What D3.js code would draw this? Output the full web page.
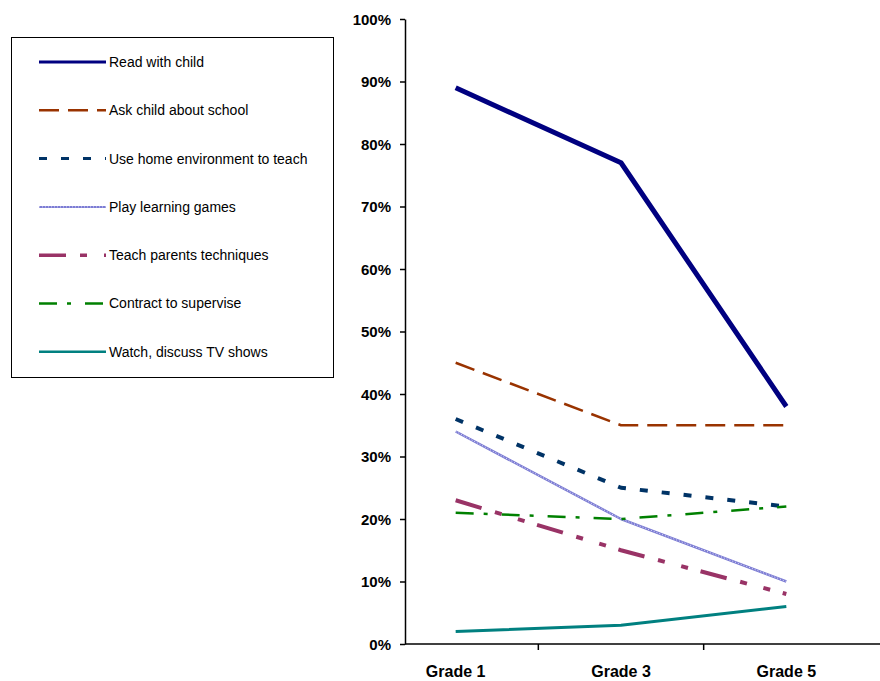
<!DOCTYPE html>
<html>
<head>
<meta charset="utf-8">
<script src="https://cdn.jsdelivr.net/npm/d3@7/dist/d3.min.js"></script>
<style>
  body { margin: 0; background: #fff; }
  text { font-family: Arial, "Liberation Sans", sans-serif; }
</style>
</head>
<body>
<div class="diagram"></div>
<script>
var width = 880, height = 681;

// DATA
var grades = ['Grade 1', 'Grade 3', 'Grade 5'];
var seriesNames = ['Read with child', 'Ask child about school', 'Use home environment to teach',
  'Play learning games', 'Teach parents techniques', 'Contract to supervise', 'Watch, discuss TV shows'];
var readWithChild = [89, 77, 38];
var askAboutSchool = [45, 35, 35];
var useHomeEnv = [36, 25, 22];
var playGames = [34, 20, 10];
var teachParents = [23, 15, 8];
var contractSupervise = [21, 20, 22];
var watchTv = [2, 3, 6];
var yTicks = [0, 10, 20, 30, 40, 50, 60, 70, 80, 90, 100];

var seriesValues = [readWithChild, askAboutSchool, useHomeEnv, playGames, teachParents, contractSupervise, watchTv];

// line styles per series (w = chart width, lw = legend width)
var styles = [
  { color: '#000080', w: 5, lw: 3, dash: null },
  { color: '#993300', w: 2.5, lw: 2.5, dash: '20,9' },
  { color: '#003366', w: 4, lw: 3, dash: '8,14' },
  { color: '#7c7cd4', w: 2.5, lw: 2, dash: null, hatch: true },
  { color: '#993366', w: 4, lw: 3.5, dash: '27,14,7,17,7,13' },
  { color: '#008000', w: 2.5, lw: 2.5, dash: '18,10,4,14' },
  { color: '#008080', w: 3, lw: 2.5, dash: null }
];

var svg = d3.select('.diagram')
  .append('svg')
  .attr('width', width)
  .attr('height', height);

var axisX = 405, plotTop = 19, plotBottom = 644;

var x = d3.scaleBand()
  .domain(grades)
  .range([373, 869]);

var y = d3.scaleLinear()
  .domain([0, 100])
  .range([plotBottom, plotTop]);

// AXES
var yAxis = svg.append('g')
  .attr('transform', 'translate(' + axisX + ',0)')
  .call(d3.axisLeft(y).tickValues(yTicks).tickSize(5).tickSizeOuter(0).tickFormat(function(d) { return d + '%'; }));
yAxis.select('.domain').attr('stroke', '#000').attr('stroke-width', 1.5);
yAxis.selectAll('.tick line').attr('stroke', '#000').attr('stroke-width', 1.5);
yAxis.selectAll('text')
  .attr('x', -14)
  .attr('dy', '0.35em')
  .attr('fill', '#000')
  .style('font-size', '15px')
  .style('font-weight', 'bold');

svg.append('line')
  .attr('x1', axisX).attr('x2', 880)
  .attr('y1', plotBottom).attr('y2', plotBottom)
  .attr('stroke', '#000').attr('stroke-width', 1.5);

// x ticks between categories
svg.selectAll('.xtick')
  .data(grades.slice(1))
  .enter()
  .append('line')
  .attr('class', 'xtick')
  .attr('x1', function(d) { return x(d); })
  .attr('x2', function(d) { return x(d); })
  .attr('y1', plotBottom).attr('y2', plotBottom + 6)
  .attr('stroke', '#000').attr('stroke-width', 1.5);

svg.selectAll('.xlabel')
  .data(grades)
  .enter()
  .append('text')
  .attr('class', 'xlabel')
  .attr('x', function(d) { return x(d) + x.bandwidth() / 2; })
  .attr('y', 677)
  .attr('text-anchor', 'middle')
  .style('font-size', '16px')
  .style('font-weight', 'bold')
  .text(function(d) { return d; });

// LINES
var line = d3.line()
  .x(function(d, i) { return x(grades[i]) + x.bandwidth() / 2; })
  .y(function(d) { return y(d); });

seriesValues.forEach(function(vals, k) {
  var s = styles[k];
  var p = svg.append('path')
    .attr('d', line(vals))
    .attr('fill', 'none')
    .attr('stroke', s.color)
    .attr('stroke-width', s.w)
    .attr('stroke-linejoin', 'round');
  if (s.dash) p.attr('stroke-dasharray', s.dash);
  if (s.hatch) {
    svg.append('path')
      .attr('d', line(vals))
      .attr('fill', 'none')
      .attr('stroke', '#fff')
      .attr('stroke-width', 0.8)
      .attr('stroke-dasharray', '1,2');
  }
});

// LEGEND
var legend = svg.append('g');
legend.append('rect')
  .attr('x', 11.5).attr('y', 37.5)
  .attr('width', 322).attr('height', 340)
  .attr('fill', '#fff')
  .attr('stroke', '#000')
  .attr('stroke-width', 1);

var rows = legend.selectAll('.row')
  .data(seriesNames)
  .enter()
  .append('g')
  .attr('class', 'row')
  .attr('transform', function(d, i) { return 'translate(0,' + (62 + i * 48.3) + ')'; });

rows.append('line')
  .attr('x1', 39).attr('x2', 106)
  .attr('y1', 0).attr('y2', 0)
  .attr('stroke', function(d, i) { return styles[i].color; })
  .attr('stroke-width', function(d, i) { return styles[i].lw; })
  .attr('stroke-dasharray', function(d, i) { return styles[i].dash; });

rows.filter(function(d, i) { return styles[i].hatch; })
  .append('line')
  .attr('x1', 39).attr('x2', 106)
  .attr('stroke', '#fff')
  .attr('stroke-width', 0.7)
  .attr('stroke-dasharray', '1,2');

rows.append('text')
  .attr('x', 109)
  .attr('y', 0)
  .attr('dy', '0.35em')
  .style('font-size', '14px')
  .attr('fill', '#000')
  .text(function(d) { return d; });
</script>
</body>
</html>
